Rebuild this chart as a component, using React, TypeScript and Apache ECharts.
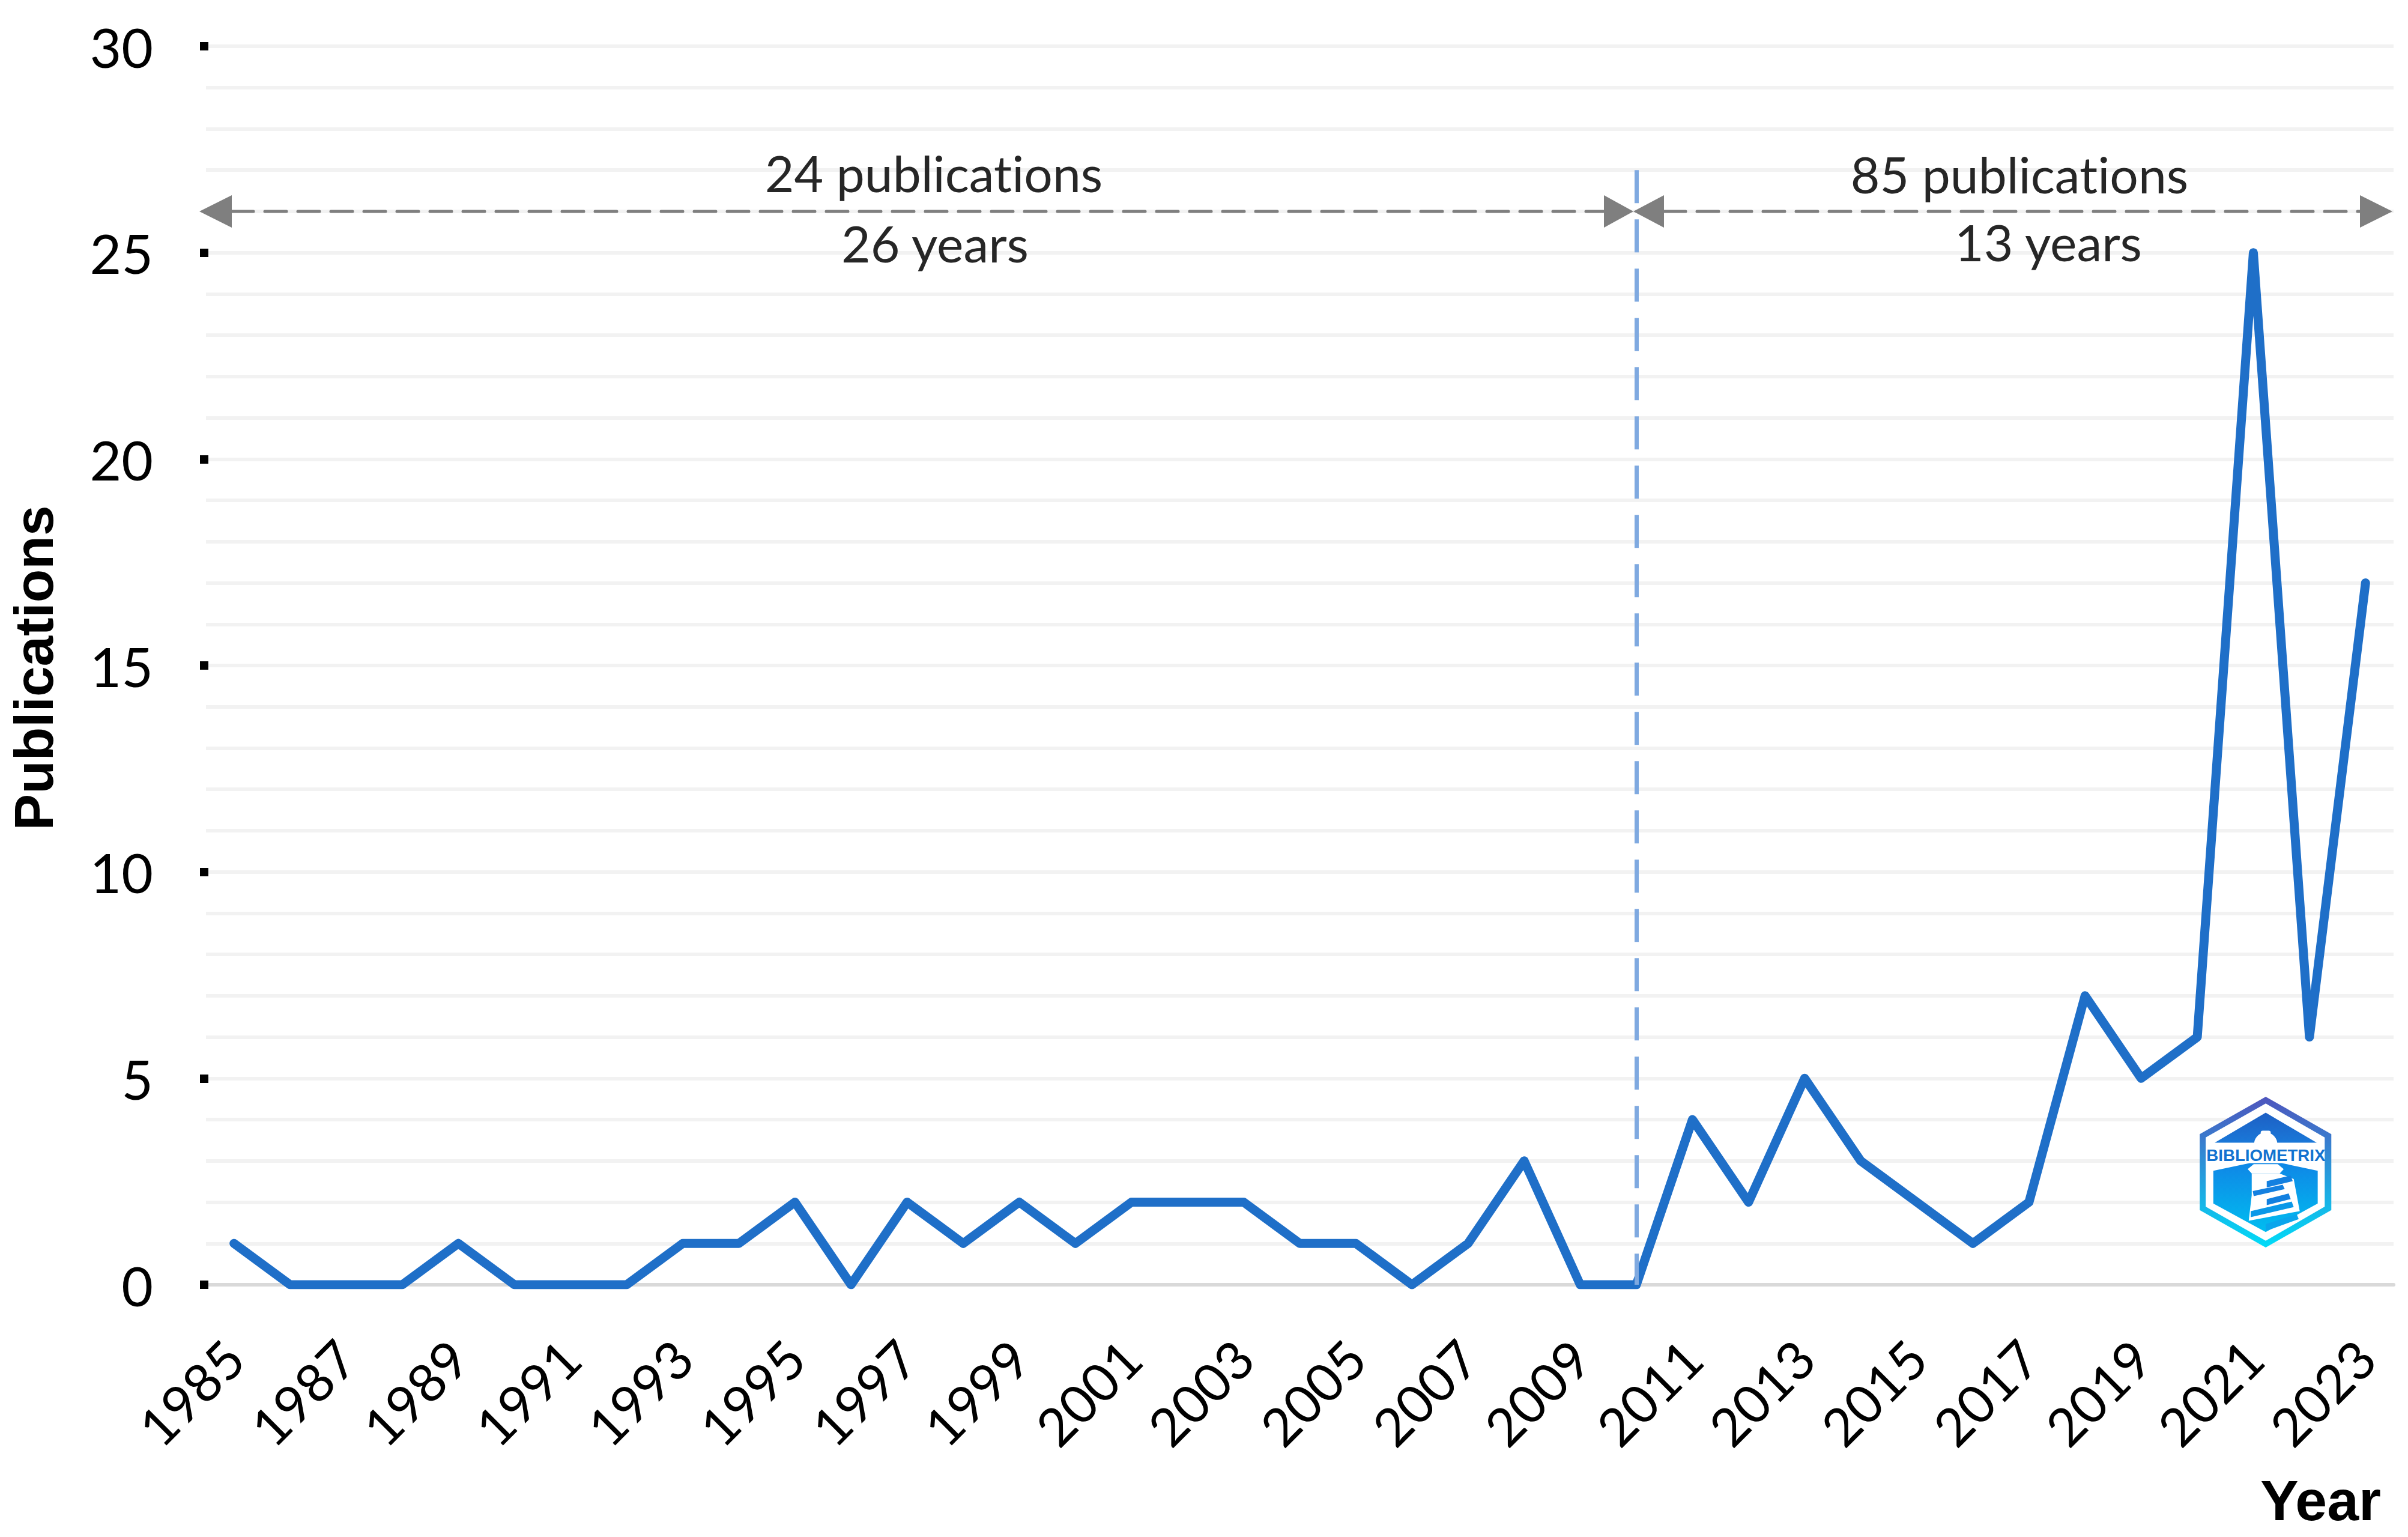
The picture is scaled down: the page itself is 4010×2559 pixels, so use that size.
import React, { useEffect, useRef } from "react";
import * as echarts from "echarts";

const years: string[] = ["1985","1986","1987","1988","1989","1990","1991","1992","1993","1994","1995","1996","1997","1998","1999","2000","2001","2002","2003","2004","2005","2006","2007","2008","2009","2010","2011","2012","2013","2014","2015","2016","2017","2018","2019","2020","2021","2022","2023"];
const publications: number[] = [1,0,0,0,1,0,0,0,1,1,2,0,2,1,2,1,2,2,2,1,1,0,1,3,0,0,4,2,5,3,2,1,2,7,5,6,25,6,17];
const splitYear = "2010";
const arrowValue = 26;
const dividerTop = 27;
const LABEL_FONT = "Lato, 'Open Sans', sans-serif";
const TITLE_FONT = "'Liberation Sans', Arial, sans-serif";

const grad = (a: string, b: string) => new echarts.graphic.LinearGradient(0, 0, 0, 1, [{ offset: 0, color: a }, { offset: 1, color: b }]);

function logo() {
  const poly = (points: number[][], fill: any) => ({ type: "polygon", shape: { points }, style: { fill } });
  return {
    type: "group", x: 3500, y: 1750, scaleX: 1 / 3, scaleY: 1 / 3, silent: true,
    children: [
      poly([[820,228],[1148,415],[1148,795],[820,982],[490,795],[490,415]], grad("#4f55bd", "#00dcf8")),
      poly([[820,262],[1115,432],[1115,778],[820,948],[520,778],[520,432]], "#ffffff"),
      poly([[565,458],[820,308],[1075,458]], grad("#1d5fc4", "#1a78d8")),
      poly([[558,598],[740,560],[900,560],[1080,598],[1080,762],[820,905],[558,762]], grad("#0f87e6", "#00bdf0")),
      { type: "circle", shape: { cx: 820, cy: 465, r: 58 }, style: { fill: "#ffffff" } },
      { type: "rect", shape: { x: 795, y: 398, width: 50, height: 40, r: 10 }, style: { fill: "#ffffff" } },
      poly([[730,590],[760,565],[880,565],[910,590],[890,612],[750,612]], "#ffffff"),
      poly([[750,612],[890,612],[960,640],[990,800],[735,848],[750,720]], "#ffffff"),
      poly([[825,650],[945,622],[955,650],[825,682]], "#1480e0"),
      poly([[755,700],[905,668],[915,690],[760,725]], "#1480e0"),
      poly([[825,740],[935,712],[945,740],[825,770]], "#1280e0"),
      poly([[745,800],[950,752],[960,780],[745,830]], "#0a98e8"),
      poly([[820,865],[975,815],[985,840],[820,900]], "#0aa5ec"),
      { type: "text", x: 820, y: 520, style: { text: "BIBLIOMETRIX", fill: "#1272d0", font: `bold 83px ${TITLE_FONT}`, align: "center", verticalAlign: "middle" } },
    ],
  };
}

function annotations(chart: any) {
  const y = chart.convertToPixel({ yAxisIndex: 0 }, arrowValue);
  const grey = "#7f7f7f";
  const dash = (x1: number, x2: number) => ({ type: "line", shape: { x1, y1: y, x2, y2: y }, style: { stroke: grey, lineWidth: 5, lineDash: [36, 19], lineCap: "round" }, silent: true });
  const tri = (tip: number, base: number) => ({ type: "polygon", shape: { points: [[tip, y], [base, y - 27], [base, y + 27]] }, style: { fill: grey }, silent: true });
  const label = (text: string, x: number, ty: number) => ({ type: "text", x, y: ty, style: { text, fill: "#262626", font: `84px ${LABEL_FONT}`, align: "center", verticalAlign: "middle" }, silent: true });
  return [
    dash(386, 2670), dash(2771, 3930),
    tri(332, 386), tri(2720, 2671), tri(2720, 2771), tri(3984, 3930),
    label("24 publications", 1555, 287),
    label("26 years", 1557, 404),
    label("85 publications", 3363, 289),
    label("13 years", 3411, 402),
    { type: "text", x: 3965, y: 2498, style: { text: "Year", fill: "#000000", font: `bold 95px ${TITLE_FONT}`, align: "right", verticalAlign: "middle" }, silent: true },
    logo(),
  ];
}

export default function App() {
  const ref = useRef<HTMLDivElement>(null);
  useEffect(() => {
    document.body.style.margin = "0";
    const chart = echarts.init(ref.current!, undefined, { renderer: "svg" });
    chart.setOption({
      animation: false,
      backgroundColor: "#ffffff",
      grid: { left: 343, right: 24, top: 77, bottom: 420, containLabel: false, outerBoundsMode: "none" },
      xAxis: {
        type: "category",
        data: years,
        boundaryGap: true,
        axisLine: { show: true, onZero: true, lineStyle: { color: "#d9d9d9", width: 6 } },
        axisTick: { show: false },
        axisLabel: { interval: 1, rotate: 45, margin: 107, fontSize: 88, color: "#000000", fontFamily: LABEL_FONT, hideOverlap: false },
        splitLine: { show: false },
      },
      yAxis: {
        type: "value",
        min: 0,
        max: 30,
        interval: 5,
        offset: -4,
        name: "Publications",
        nameLocation: "middle",
        nameGap: 245,
        nameTextStyle: { fontFamily: TITLE_FONT, fontWeight: "bold", fontSize: 91, color: "#000000", padding: [0, 8, 0, 0] },
        axisLine: { show: false },
        axisTick: { show: true, length: 14, lineStyle: { color: "#000000", width: 14 } },
        axisLabel: { margin: 92, fontSize: 91, color: "#000000", fontFamily: LABEL_FONT },
        splitLine: { show: true, lineStyle: { color: "#f2f2f2", width: 6 } },
        minorTick: { show: false, splitNumber: 5 },
        minorSplitLine: { show: true, lineStyle: { color: "#f2f2f2", width: 6 } },
      },
      series: [
        {
          type: "line",
          data: publications,
          showSymbol: false,
          smooth: false,
          lineStyle: { color: "#1f6fc8", width: 15, cap: "round", join: "round" },
          markLine: {
            silent: true,
            symbol: "none",
            label: { show: false },
            lineStyle: { color: "#7fa9e0", width: 7, type: [55, 27] },
            data: [[{ xAxis: splitYear, yAxis: dividerTop }, { xAxis: splitYear, yAxis: 0 }]],
          },
        },
      ],
    });
    chart.setOption({ graphic: annotations(chart) });
    return () => chart.dispose();
  }, []);
  return (
    <>
      <style>{"svg text { font-variant-ligatures: none !important; }"}</style>
      <div ref={ref} style={{ position: "absolute", left: 0, top: 0, width: 4010, height: 2559 }} />
    </>
  );
}
